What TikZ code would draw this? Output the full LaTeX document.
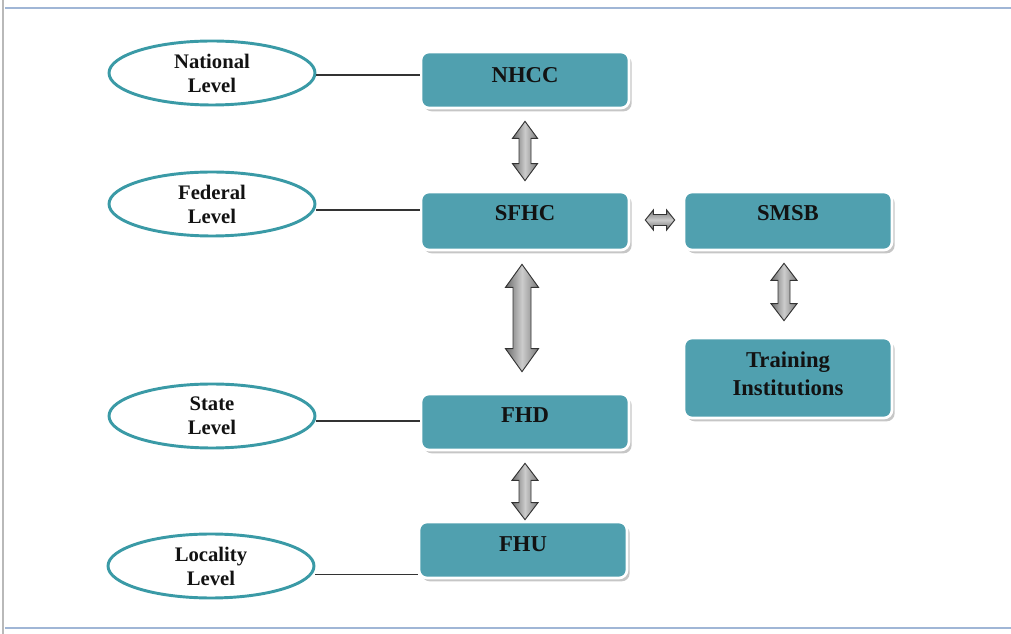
\documentclass[tikz,border=0pt]{standalone}
\usepackage{fontspec}
\setmainfont{Liberation Serif}
\usetikzlibrary{shapes.geometric,shadows,calc}

\definecolor{teal1}{RGB}{80,160,175}
\definecolor{tealline}{RGB}{58,154,166}
\definecolor{framel}{RGB}{160,182,214}
\definecolor{ink}{RGB}{18,18,18}

\def\u{0.75pt}

\tikzset{
  unitbox/.style={rounded corners=6pt, fill=teal1, draw=white, line width=2pt,
    drop shadow={shadow xshift=2pt, shadow yshift=-2.5pt, opacity=0.45, fill=gray},
    minimum width=208*\u, inner sep=0pt},
  boxlabel/.style={font=\bfseries\fontsize{17}{21}\selectfont, text=ink, align=center, inner sep=0pt},
  levelell/.style={ellipse, draw=tealline, line width=2.2pt, fill=white,
    minimum width=206*\u, minimum height=64*\u, inner sep=0pt,
    font=\bfseries\fontsize{15.5}{18}\selectfont, text=ink, align=center},
  tie/.style={draw=gray!40!black, line width=1.1pt},
  vlinkstyle/.style={draw=gray!40!black, line width=0.7pt, line join=miter,
    left color=gray!85!black, right color=gray!95!black, middle color=gray!40},
  hlinkstyle/.style={draw=gray!40!black, line width=0.7pt, line join=miter,
    top color=gray!95!black, bottom color=gray!85!black, middle color=gray!40},
}

% two-headed block arrow: top tip, bottom tip, half head width, half shaft width, head length
\newcommand\vlink[5]{%
  \path[vlinkstyle] (#1) -- ++(#3,#5) -- ++({#4-#3},0) -- ($(#2)+(#4,-#5)$)
    -- ++({#3-#4},0) -- (#2) -- ++(-#3,-#5) -- ++({#3-#4},0)
    -- ($(#1)+(-#4,#5)$) -- ++({#4-#3},0) -- cycle;}
% same, lying on its side: left tip, right tip, ...
\newcommand\hlink[5]{%
  \path[hlinkstyle] (#1) -- ++(#5,-#3) -- ++(0,{#3-#4}) -- ($(#2)+(-#5,-#4)$)
    -- ++(0,{#4-#3}) -- (#2) -- ++(-#5,#3) -- ++(0,{#4-#3})
    -- ($(#1)+(#5,#4)$) -- ++(0,{#3-#4}) -- cycle;}

\begin{document}
\begin{tikzpicture}[x=0.75pt, y=-0.75pt]
\useasboundingbox (0,0) rectangle (1011,634);

% page frame
\draw[framel, line width=2.2pt] (5,8) -- (1011,8);
\draw[framel, line width=2.2pt] (5,628) -- (1011,628);
\draw[gray!55, line width=1.2pt] (3,0) -- (3,634);

% organisation units
\node[unitbox, minimum height=56*\u] (nhcc) at (525,80) {};
\node[unitbox, minimum height=58*\u] (sfhc) at (525,221) {};
\node[unitbox, minimum height=58*\u] (smsb) at (788,221) {};
\node[unitbox, minimum height=56*\u] (fhd)  at (525,422) {};
\node[unitbox, minimum height=56*\u] (fhu)  at (523,550) {};
\node[unitbox, minimum height=80*\u] (train) at (788,378) {};

\node[boxlabel] (nhcct) at ([yshift=4pt]nhcc.center) {NHCC};
\node[boxlabel] (sfhct) at ([yshift=6pt]sfhc.center) {SFHC};
\node[boxlabel] (smsbt) at ([yshift=6pt]smsb.center) {SMSB};
\node[boxlabel] (fhdt)  at ([yshift=5pt]fhd.center) {FHD};
\node[boxlabel] (fhut)  at ([yshift=4pt]fhu.center) {FHU};
\node[boxlabel] (traint) at ([yshift=3.5pt]train.center) {Training\\Institutions};

% levels
\node[levelell] (natl) at (212,73)  {National\\Level};
\node[levelell] (fedl) at (212,204) {Federal\\Level};
\node[levelell] (stal) at (212,416) {State\\Level};
\node[levelell] (locl) at (211,566) {Locality\\Level};

% level ties
\draw[tie] ([yshift=-1.5pt]natl.east) -- ([yshift=-1.5pt]natl.east -| nhcc.west);
\draw[tie] ([yshift=-4.5pt]fedl.east) -- ([yshift=-4.5pt]fedl.east -| sfhc.west);
\draw[tie] ([yshift=-3.8pt]stal.east) -- ([yshift=-3.8pt]stal.east -| fhd.west);
\draw[tie] ([yshift=-6.5pt]locl.east) -- ([yshift=-6.5pt]locl.east -| fhu.west);

% two-way links between units
\coordinate (a1t) at ($(nhcc.south)+(0,12)$);
\coordinate (a1b) at ($(sfhc.north)+(0,-10)$);
\coordinate (a2t) at ($(sfhc.south)+(-3,13)$);
\coordinate (a2b) at ($(fhd.north)+(-3,-21)$);
\coordinate (a3t) at ($(fhd.south)+(0,12)$);
\coordinate (a3b) at ($(fhu.north)+(2,-1)$);
\coordinate (a4t) at ($(smsb.south)+(-4,12)$);
\coordinate (a4b) at ($(train.north)+(-4,-16)$);
\coordinate (a5l) at ($(sfhc.east)+(15,-1)$);
\coordinate (a5r) at ($(smsb.west)+(-8,-1)$);

\vlink{a1t}{a1b}{12.5}{6}{17}
\vlink{a2t}{a2b}{16.5}{9}{23}
\vlink{a3t}{a3b}{13}{6}{17}
\vlink{a4t}{a4b}{13}{6}{17}
\hlink{a5l}{a5r}{10}{5.5}{8}
\end{tikzpicture}
\end{document}
